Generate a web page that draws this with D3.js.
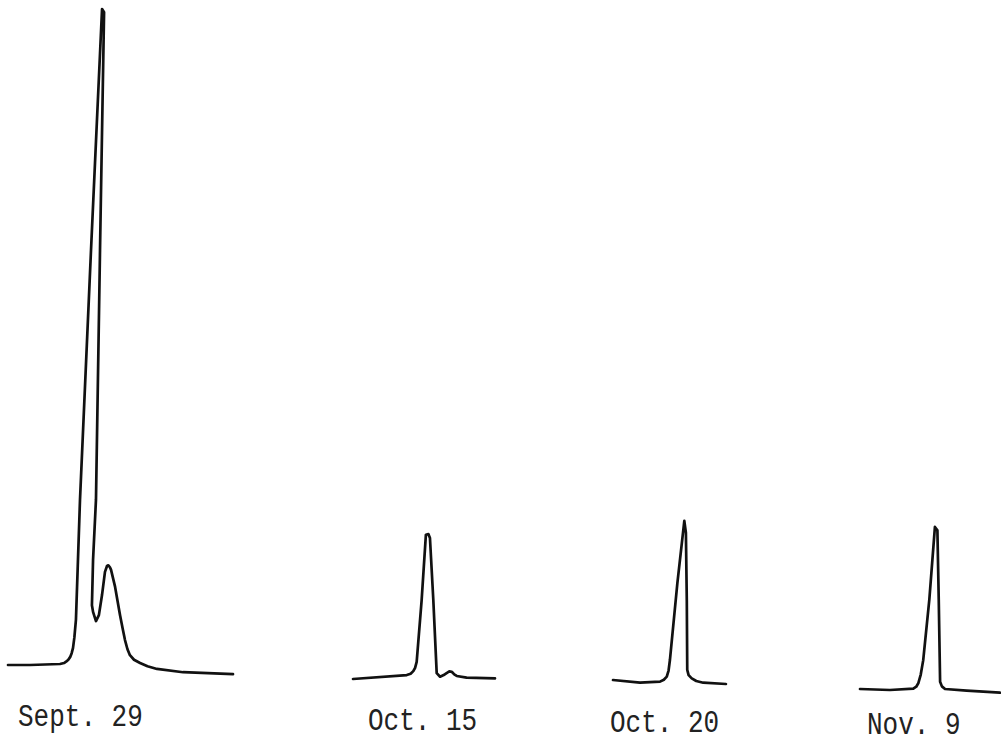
<!DOCTYPE html>
<html>
<head>
<meta charset="utf-8">
<script src="https://cdn.jsdelivr.net/npm/d3@7"></script>
<style>
  body { margin: 0; background: #fff; }
  svg { display: block; }
  .trace { fill: none; stroke: #111; stroke-width: 2.7; stroke-linejoin: round; stroke-linecap: round; }
  .label { font-family: "Liberation Mono", monospace; font-size: 26px; fill: #222; }
</style>
</head>
<body>
<svg width="1001" height="745"></svg>
<script>
// dates of the four recordings
const dates = ["Sept. 29", "Oct. 15", "Oct. 20", "Nov. 9"];

// recorder traces: [time, signal] (signal: Sept. 29 main peak = 100)
const sept29 = [
  [0, 0], [9.8, 0], [23.1, 0.15], [24.9, 0.3], [25.8, 0.5], [26.8, 0.8],
  [27.6, 1.2], [28.3, 1.8], [28.9, 2.6], [29.5, 4.2], [30.2, 6.9],
  [32.0, 25.2], [36.9, 63.3], [41.8, 100], [42.7, 99.5],
  [40.9, 63.3], [39.1, 25.2], [37.8, 16.0], [37.3, 9.1], [37.8, 8.1],
  [39.1, 6.7], [40.4, 7.6], [41.8, 10.7], [43.1, 14.2], [44.0, 15.1],
  [44.6, 15.2], [45.3, 14.9], [45.8, 14.5], [47.6, 11.9], [49.8, 7.6],
  [51.0, 5.5], [52.0, 3.8], [53.1, 2.4], [54.2, 1.5], [56.0, 0.8],
  [58.7, 0.3], [62.0, -0.2], [66.2, -0.6], [77.8, -1.1], [100, -1.4]
];
const oct15 = [
  [0, 0], [23.9, 0.6], [25.6, 0.8], [26.8, 1.2], [27.6, 1.7], [28.3, 2.6],
  [30.5, 12.0], [32.4, 22.0], [33.5, 22.1], [34.2, 21.5], [35.7, 12.0],
  [37.2, 0.9], [38.7, 0.35], [40.3, 0.6], [41.6, 0.9], [42.8, 1.15],
  [43.9, 1.1], [45.0, 0.7], [46.1, 0.46], [50.5, 0.2], [63.1, 0.1]
];
const oct20 = [
  [0, 0.15], [12.0, -0.26], [20.9, -0.1], [22.6, 0.2], [23.9, 0.66],
  [24.7, 1.6], [25.3, 3.2], [28.6, 14.9], [31.7, 24.4], [32.4, 22.6],
  [32.8, 12.3], [33.0, 1.7], [33.6, 0.9], [35.0, 0.4], [37.0, 0],
  [40.1, -0.26], [50.2, -0.46]
];
const nov9 = [
  [0, 0], [13.3, -0.15], [23.7, 0.05], [25.0, 0.35], [25.9, 0.87],
  [27.0, 2.2], [28.1, 4.4], [30.8, 13.6], [33.3, 24.7], [34.4, 24.2],
  [35.0, 13.6], [35.6, 1.1], [36.4, 0.4], [37.8, 0], [47.4, -0.26],
  [62.2, -0.56]
];

const traces = [sept29, oct15, oct20, nov9];

// where each recording sits on the page (left end of baseline)
const panelX = [8, 353, 613, 860];
const panelY = [665, 679, 681, 689];
const labelX = [18, 368, 610, 867];
const labelY = [726, 730, 732, 734];

const svg = d3.select("svg");

const x = d3.scaleLinear().domain([0, 100]).range([0, 225]);
const y = d3.scaleLinear().domain([0, 100]).range([0, -656]);

const line = d3
  .line()
  .x(d => x(d[0]))
  .y(d => y(d[1]))
  .curve(d3.curveLinear);

const panels = svg
  .selectAll("g.panel")
  .data(traces)
  .enter()
  .append("g")
  .attr("class", "panel")
  .attr("transform", (d, i) => `translate(${panelX[i]},${panelY[i]})`);

panels
  .append("path")
  .attr("class", "trace")
  .attr("d", d => line(d));

svg
  .selectAll("text.label")
  .data(dates)
  .enter()
  .append("text")
  .attr("class", "label")
  .attr("transform", (d, i) => `translate(${labelX[i]},${labelY[i]}) scale(1,1.2)`)
  .text(d => d);
</script>
</body>
</html>
